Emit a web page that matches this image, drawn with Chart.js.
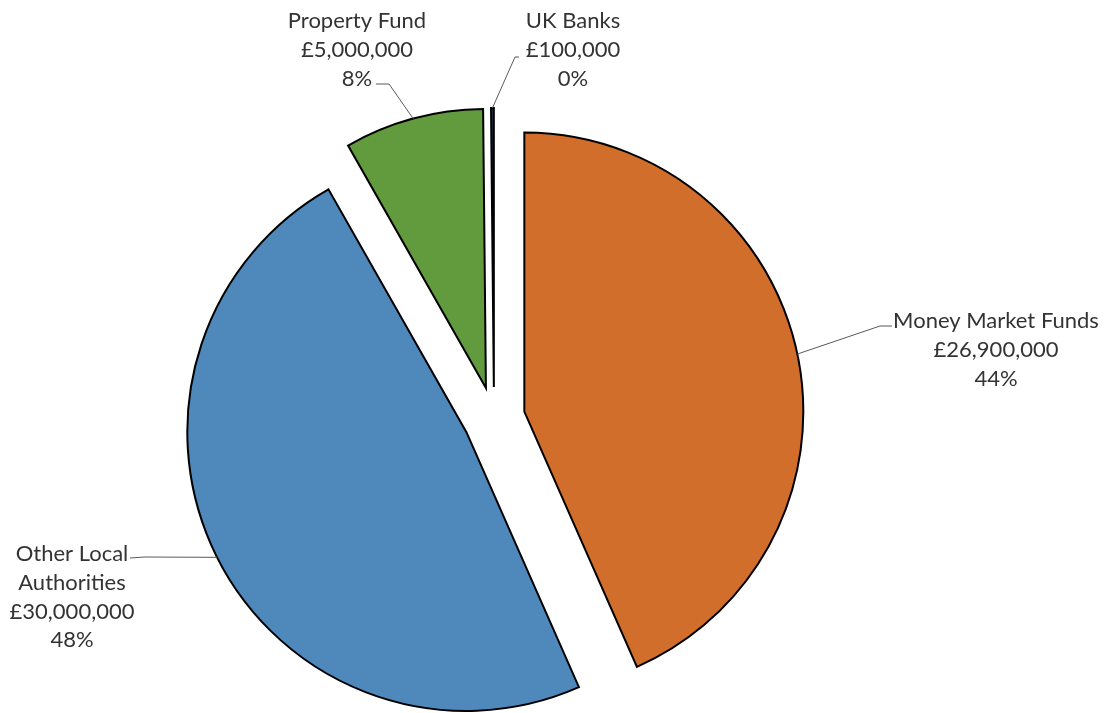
<!DOCTYPE html>
<html>
<head>
<meta charset="utf-8">
<script src="https://cdn.jsdelivr.net/npm/chart.js@4"></script>
<style>
  html, body { margin: 0; padding: 0; background: #fff; }
  #wrap { width: 1107px; height: 713px; }
</style>
</head>
<body>
<div id="wrap"><canvas id="chart" width="1107" height="713"></canvas></div>
<script>
// data
var categories = ['Money Market Funds', 'Other Local Authorities', 'Property Fund', 'UK Banks'];
var amounts = [26900000, 30000000, 5000000, 100000];
var percentLabels = ['44%', '48%', '8%', '0%'];
var sliceColors = ['#D26E2B', '#4F88BB', '#629A3E', '#1F2F4A'];

// label layout: text lines, centre x, first line y, leader elbow + end
var labelLines = [
    ['Money Market Funds'],
    ['Other Local', 'Authorities'],
    ['Property Fund'],
    ['UK Banks']
];
var labelLayout = [
    { x: 996, y: 321, elbow: [880, 326], end: [892, 326] },
    { x: 72, y: 554, elbow: [145, 557], end: [130, 558] },
    { x: 357, y: 21, elbow: [389, 84], end: [376, 84] },
    { x: 573, y: 21, elbow: [515, 57], end: [519, 57] }
];

// arc that is moved out along its bisector (excel style explode)
class ExplodedArc extends Chart.ArcElement {
    draw(ctx) {
        var o = this.options;
        var mid = (this.startAngle + this.endAngle) / 2;
        var off = o.offset || 0;
        var cx = this.x + Math.cos(mid) * off;
        var cy = this.y + Math.sin(mid) * off;
        ctx.save();
        ctx.beginPath();
        ctx.moveTo(cx, cy);
        ctx.arc(cx, cy, this.outerRadius, this.startAngle, this.endAngle);
        ctx.closePath();
        ctx.fillStyle = o.backgroundColor;
        ctx.fill();
        ctx.lineWidth = o.borderWidth;
        ctx.strokeStyle = o.borderColor;
        ctx.lineJoin = 'miter';
        ctx.stroke();
        ctx.restore();
    }
}
ExplodedArc.id = 'explodedArc';

class ExplodedPie extends Chart.PieController {}
ExplodedPie.id = 'explodedPie';
ExplodedPie.defaults = { dataElementType: 'explodedArc' };

Chart.register(ExplodedArc, ExplodedPie);

var FONT = '22px Lato, "Open Sans", sans-serif';

// labels with leader lines
var pieLabels = {
    id: 'pieLabels',
    afterDatasetsDraw: function(chart) {
        var ctx = chart.ctx;
        var arcs = chart.getDatasetMeta(0).data;
        ctx.save();
        ctx.font = FONT;
        ctx.textAlign = 'center';
        ctx.textBaseline = 'middle';
        for (var i = 0; i < arcs.length; i++) {
            var a = arcs[i];
            var mid = (a.startAngle + a.endAngle) / 2;
            var off = a.options.offset || 0;
            var r = off + a.outerRadius;
            var px = a.x + Math.cos(mid) * r;
            var py = a.y + Math.sin(mid) * r;
            var lay = labelLayout[i];

            ctx.strokeStyle = '#595959';
            ctx.lineWidth = 1;
            ctx.beginPath();
            ctx.moveTo(px, py);
            ctx.lineTo(lay.elbow[0], lay.elbow[1]);
            ctx.lineTo(lay.end[0], lay.end[1]);
            ctx.stroke();

            var lines = labelLines[i].concat([
                '£' + amounts[i].toLocaleString('en-GB'),
                percentLabels[i]
            ]);
            ctx.fillStyle = '#333333';
            for (var j = 0; j < lines.length; j++) {
                ctx.fillText(lines[j], lay.x, lay.y + j * 28.8);
            }
        }
        ctx.restore();
    }
};

var pieChart = new Chart(document.getElementById('chart'), {
    type: 'explodedPie',
    data: {
        labels: categories,
        datasets: [{
            data: amounts,
            backgroundColor: sliceColors,
            borderColor: '#000000',
            borderWidth: 2,
            offset: 31
        }]
    },
    options: {
        responsive: false,
        animation: false,
        devicePixelRatio: 1,
        radius: 279,
        layout: { padding: { left: 0, right: 119, top: 123, bottom: 0 } },
        plugins: {
            legend: { display: false },
            tooltip: { enabled: false }
        }
    },
    plugins: [pieLabels]
});
</script>
</body>
</html>
